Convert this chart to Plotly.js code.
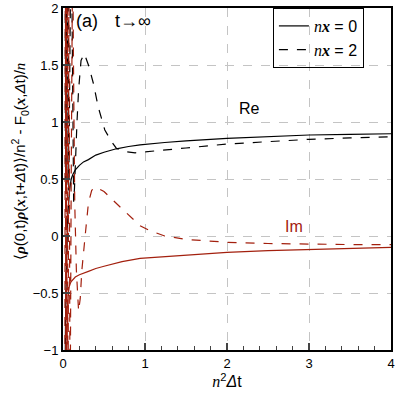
<!DOCTYPE html>
<html>
<head>
<meta charset="utf-8">
<script src="https://cdn.plot.ly/plotly-3.0.1.min.js"></script>
<style>
  html, body { margin: 0; padding: 0; background: #fff; }
  #graph { width: 399px; height: 399px; }
</style>
</head>
<body>
<div id="graph"></div>
<script>
const redColor = "#a3200e";

// Re, nx = 0 (solid black)
const reX0 = [0.01, 0.02, 0.03, 0.04, 0.05, 0.06, 0.08, 0.1, 0.12, 0.15, 0.2, 0.25, 0.31, 0.4, 0.5, 0.65, 0.8, 0.94, 1.24, 1.5, 2, 2.5, 3, 3.5, 4];
const reY0 = [-3, -1.5, -0.8, -0.3, 0, 0.2, 0.4, 0.5, 0.54, 0.58, 0.62, 0.65, 0.67, 0.71, 0.735, 0.765, 0.785, 0.80, 0.82, 0.835, 0.857, 0.873, 0.886, 0.892, 0.897];

// Im, nx = 0 (solid red)
const imX0 = [0.01, 0.02, 0.03, 0.04, 0.05, 0.065, 0.08, 0.1, 0.15, 0.2, 0.31, 0.4, 0.5, 0.72, 0.94, 1.24, 1.5, 2, 2.5, 3, 3.5, 4];
const imY0 = [-4, -2.2, -1.6, -1.2, -0.85, -0.5, -0.43, -0.4, -0.36, -0.34, -0.31, -0.285, -0.265, -0.225, -0.196, -0.18, -0.168, -0.143, -0.128, -0.117, -0.108, -0.10];

// Re, nx = 2 (dashed black)
const reX2 = [0.02, 0.023, 0.026, 0.029, 0.032, 0.036, 0.041, 0.047, 0.058, 0.07, 0.085, 0.099, 0.11, 0.12, 0.13, 0.14, 0.146, 0.16, 0.17, 0.19, 0.22, 0.26, 0.31, 0.37, 0.43, 0.51, 0.59, 0.65, 0.75, 0.88, 1.0, 1.24, 1.5, 2, 2.5, 3, 3.5, 4];
const reY2 = [3, 0.6, 5, 0.5, 4.5, 0.5, 4, 0.45, 3.5, 0.4, 2.2, 2.8, 2.0, 1.0, 0.3, 0.42, 0.55, 0.82, 0.99, 1.28, 1.54, 1.60, 1.50, 1.34, 1.13, 0.93, 0.83, 0.77, 0.74, 0.73, 0.737, 0.755, 0.772, 0.807, 0.83, 0.848, 0.86, 0.871];

// Im, nx = 2 (dashed red)
const imX2 = [0.02, 0.023, 0.026, 0.03, 0.034, 0.039, 0.045, 0.052, 0.061, 0.072, 0.086, 0.1, 0.118, 0.128, 0.134, 0.143, 0.163, 0.19, 0.21, 0.23, 0.27, 0.31, 0.35, 0.39, 0.45, 0.5, 0.6, 0.72, 0.85, 0.94, 1.05, 1.24, 1.5, 2, 2.5, 3, 3.5, 4];
const imY2 = [-3, 3, -3, 3, -2.5, 2.8, -2.5, 2.5, -2.2, 2.4, -1.8, 0.5, 2.6, 1.5, 0.58, 0.29, -0.30, -0.66, -0.55, -0.30, 0.0, 0.29, 0.40, 0.43, 0.41, 0.39, 0.32, 0.24, 0.15, 0.09, 0.05, 0.0, -0.03, -0.055, -0.066, -0.072, -0.075, -0.075];

const xTicks = [0, 1, 2, 3, 4];
const yTicks = [-1, -0.5, 0, 0.5, 1, 1.5, 2];

// serif italic for the math symbols
function mathIt(s) {
  return "<span style='font-family:Liberation Serif'><i>" + s + "</i></span>";
}
function mathBold(s) {
  return "<span style='font-family:Liberation Serif'><b><i>" + s + "</i></b></span>";
}

const legendNames = [mathIt("n") + mathBold("x") + " = 0", mathIt("n") + mathBold("x") + " = 2"];
const yTitle = "⟨" + mathBold("ρ") + "(0,t)" + mathBold("ρ") + "(" + mathBold("x") + ",t+<i>Δ</i>t)⟩/n<sup>2</sup> - F<sub>0</sub>(" + mathBold("x") + ",<i>Δ</i>t)/" + mathIt("n");

let data = [
  {
    x: reX0, y: reY0, type: "scatter", mode: "lines", name: legendNames[0],
    line: { color: "black", width: 1.2 },
  },
  {
    x: reX2, y: reY2, type: "scatter", mode: "lines", name: legendNames[1],
    line: { color: "black", width: 1.2, dash: "dash" },
  },
  {
    x: imX0, y: imY0, type: "scatter", mode: "lines", showlegend: false,
    line: { color: redColor, width: 1.2 },
  },
  {
    x: imX2, y: imY2, type: "scatter", mode: "lines", showlegend: false,
    line: { color: redColor, width: 1.2, dash: "dash" },
  },
];

let layout = {
  width: 399,
  height: 399,
  paper_bgcolor: "white",
  plot_bgcolor: "white",
  font: { family: "Liberation Sans, Arial, sans-serif", size: 13, color: "black" },
  margin: { l: 63, r: 8, t: 8, b: 49 },
  showlegend: true,
  legend: {
    x: 0.64, y: 1, xanchor: "left", yanchor: "top",
    bgcolor: "rgba(0,0,0,0)",
    bordercolor: "black",
    borderwidth: 1,
    font: { size: 16 },
    tracegroupgap: 0,
  },
  xaxis: {
    range: [0, 4],
    tickvals: xTicks,
    ticks: "inside",
    ticklen: 7,
    tickwidth: 1.5,
    showline: true,
    linewidth: 2,
    linecolor: "black",
    mirror: true,
    zeroline: false,
    showgrid: true,
    gridcolor: "#c4c4c4",
    griddash: "dash",
    minor: { ticks: "inside", dtick: 0.2, ticklen: 4, tickwidth: 1, showgrid: false },
    tickfont: { size: 13 },
    title: { text: mathIt("n") + "<sup>2</sup><i>Δ</i>t", font: { size: 16 }, standoff: 6 },
  },
  yaxis: {
    range: [-1, 2],
    tickvals: yTicks,
    ticks: "inside",
    ticklen: 7,
    tickwidth: 1.5,
    showline: true,
    linewidth: 2,
    linecolor: "black",
    mirror: true,
    zeroline: false,
    showgrid: true,
    gridcolor: "#c4c4c4",
    griddash: "dash",
    tickfont: { size: 13 },
  },
  annotations: [
    {
      x: -0.131, y: 0.55, xref: "paper", yref: "paper", text: yTitle, textangle: -90,
      showarrow: false, xanchor: "center", yanchor: "middle", font: { size: 15 },
    },
    { x: 0.29, y: 1.886, xref: "x", yref: "y", text: "(a)", showarrow: false, font: { size: 18 } },
    { x: 0.85, y: 1.886, xref: "x", yref: "y", text: "t→∞", showarrow: false, font: { size: 18 } },
    { x: 2.27, y: 1.12, xref: "x", yref: "y", text: "Re", showarrow: false, font: { size: 16 } },
    { x: 2.82, y: 0.08, xref: "x", yref: "y", text: "Im", showarrow: false, font: { size: 16, color: redColor } },
  ],
};

let configuration = { displayModeBar: false, staticPlot: true };

Plotly.newPlot("graph", data, layout, configuration);
</script>
</body>
</html>
